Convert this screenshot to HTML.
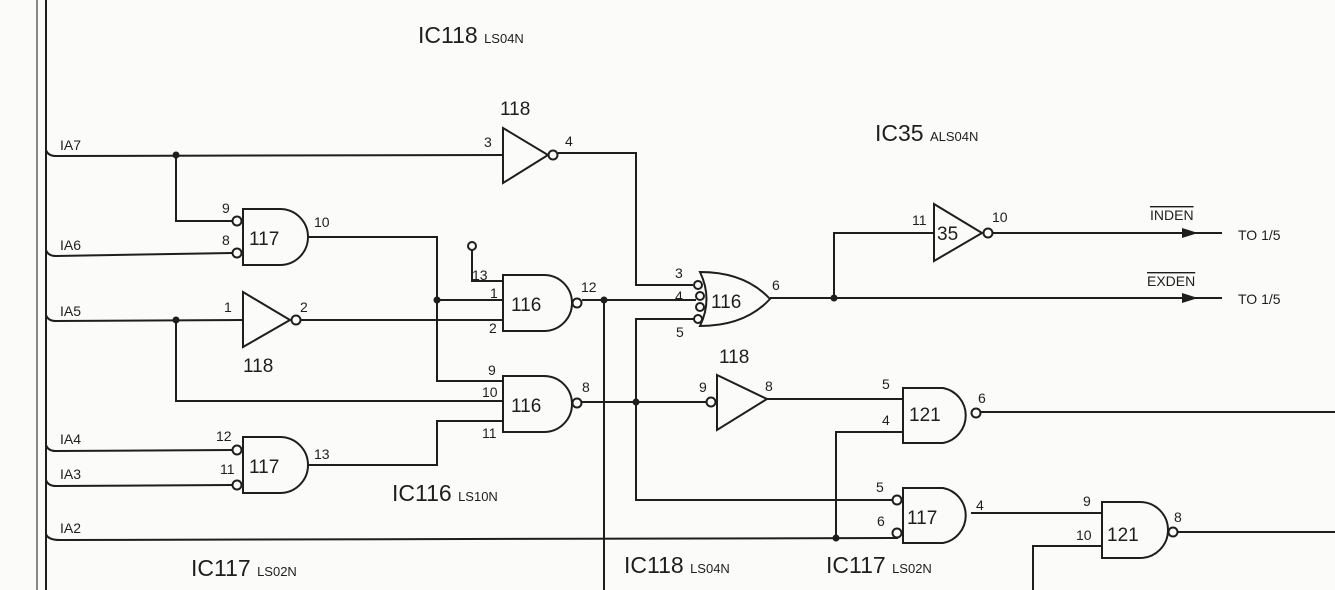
<!DOCTYPE html>
<html><head><style>
html,body{margin:0;padding:0;background:#fbfbfa;}
svg{display:block}
text{font-family:"Liberation Sans",sans-serif;fill:#1e1e1e}
</style></head><body>
<svg width="1335" height="590" viewBox="0 0 1335 590" xmlns="http://www.w3.org/2000/svg">
<g stroke="#1e1e1e" stroke-width="2" fill="none">
<line x1="37" y1="0" x2="37" y2="590" stroke="#888"/>
<line x1="46" y1="0" x2="46" y2="590"/>
<path d="M46 150 Q48 156 56 156 L503 155"/>
<path d="M176 155 V221 H232"/>
<path d="M46 250 Q48 256 56 256 L232 253"/>
<path d="M46 315 Q48 321 56 321 L243 320"/>
<path d="M176 320 V401 H503"/>
<path d="M46 445 Q48 451 56 451 L232 450"/>
<path d="M46 480 Q48 486 56 486 L232 485"/>
<path d="M46 534 Q48 540 60 540 L898 538"/>
<path d="M503 128 L548 155 L503 183 Z"/>
<circle cx="553" cy="155" r="4.5"/>
<path d="M558 153 H636 V285 H693"/>
<path d="M243 209 H280 A28 28 0 0 1 280 265 H243 Z"/>
<circle cx="237" cy="221" r="4.5"/><circle cx="237" cy="253" r="4.5"/>
<path d="M308 237 H437 V381 H503"/>
<path d="M437 300 H503"/>
<path d="M243 292 L290 320 L243 347 Z"/>
<circle cx="296" cy="320" r="4.5"/>
<path d="M301 320 H503"/>
<circle cx="472" cy="246" r="4"/>
<path d="M472 250 V281 H503"/>
<path d="M503 275 H544 A28 28 0 0 1 544 331 H503 Z"/>
<circle cx="577" cy="303" r="4.5"/>
<path d="M582 300 H696"/>
<line x1="604" y1="300" x2="604" y2="590"/>
<path d="M503 376 H544 A28 28 0 0 1 544 432 H503 Z"/>
<circle cx="577" cy="403" r="4.5"/>
<path d="M582 402 H706"/>
<path d="M503 421 H437 V465 H308"/>
<path d="M243 437 H280 A28 28 0 0 1 280 493 H243 Z"/>
<circle cx="237" cy="450" r="4.5"/><circle cx="237" cy="485" r="4.5"/>
<path d="M700 272 Q745 272 770 299 Q745 326 700 326 Q713 299 700 272 Z"/>
<circle cx="698" cy="285" r="4"/><circle cx="700" cy="296" r="4"/><circle cx="700" cy="307" r="4"/><circle cx="698" cy="319" r="4"/>
<path d="M694 319 H636 V500 H892"/>
<path d="M770 298 H1222"/>
<path d="M834 298 V233 H934"/>
<path d="M934 204 L982 233 L934 261 Z"/>
<circle cx="988" cy="233" r="4.5"/>
<path d="M993 233 H1222"/>
<circle cx="711" cy="402" r="4.5"/>
<path d="M717 375 L767 399 L717 430 Z"/>
<path d="M767 399 H903"/>
<path d="M903 388 H943 A28 28 0 0 1 943 443 H903 Z"/>
<circle cx="976" cy="413" r="4.5"/>
<path d="M981 412 H1335"/>
<path d="M903 432 H836 V538"/>
<path d="M903 488 H943 A28 28 0 0 1 943 543 H903 Z"/>
<circle cx="897" cy="500" r="4.5"/><circle cx="897" cy="533" r="4.5"/>
<path d="M971 513 H1102"/>
<path d="M1102 502 H1140 A28 28 0 0 1 1140 558 H1102 Z"/>
<circle cx="1173" cy="532" r="4.5"/>
<path d="M1178 532 H1335"/>
<path d="M1102 546 H1033 V590"/>
</g>
<g fill="#1e1e1e">
<circle cx="176" cy="155" r="3.5"/><circle cx="176" cy="320" r="3.5"/>
<circle cx="437" cy="300" r="3.5"/><circle cx="604" cy="300" r="3.5"/>
<circle cx="636" cy="402" r="3.5"/><circle cx="834" cy="298" r="3.5"/>
<circle cx="836" cy="538" r="3.5"/>
<path d="M1182 228 L1198 233 L1182 238 Z"/>
<path d="M1182 293 L1198 298 L1182 303 Z"/>
</g>
<g font-size="14">
<text x="60" y="150">IA7</text><text x="60" y="250">IA6</text><text x="60" y="316">IA5</text>
<text x="60" y="444">IA4</text><text x="60" y="479">IA3</text><text x="60" y="533">IA2</text>
<text x="484" y="147">3</text><text x="565" y="146">4</text>
<text x="222" y="213">9</text><text x="222" y="245">8</text><text x="314" y="227">10</text>
<text x="224" y="312">1</text><text x="300" y="312">2</text>
<text x="472" y="280">13</text><text x="490" y="298">1</text><text x="489" y="333">2</text><text x="581" y="292">12</text>
<text x="488" y="375">9</text><text x="482" y="397">10</text><text x="482" y="438">11</text><text x="582" y="392">8</text>
<text x="216" y="441">12</text><text x="220" y="474">11</text><text x="314" y="459">13</text>
<text x="675" y="278">3</text><text x="675" y="301">4</text><text x="676" y="337">5</text><text x="772" y="290">6</text>
<text x="912" y="225">11</text><text x="992" y="222">10</text>
<text x="699" y="392">9</text><text x="765" y="391">8</text>
<text x="882" y="389">5</text><text x="882" y="425">4</text><text x="978" y="403">6</text>
<text x="876" y="492">5</text><text x="877" y="526">6</text><text x="976" y="510">4</text>
<text x="1083" y="506">9</text><text x="1076" y="540">10</text><text x="1174" y="522">8</text>
</g>
<g font-size="19">
<text x="500" y="115">118</text><text x="243" y="372">118</text><text x="719" y="363">118</text>
<text x="249" y="245">117</text><text x="249" y="473">117</text>
<text x="511" y="311">116</text><text x="511" y="412">116</text><text x="711" y="308">116</text>
<text x="937" y="240">35</text>
<text x="909" y="421">121</text><text x="907" y="524">117</text><text x="1107" y="541">121</text>
</g>
<g font-size="23">
<text x="418" y="43">IC118 <tspan font-size="13">LS04N</tspan></text>
<text x="875" y="141">IC35 <tspan font-size="13">ALS04N</tspan></text>
<text x="392" y="501">IC116 <tspan font-size="13">LS10N</tspan></text>
<text x="191" y="576">IC117 <tspan font-size="13">LS02N</tspan></text>
<text x="624" y="573">IC118 <tspan font-size="13">LS04N</tspan></text>
<text x="826" y="573">IC117 <tspan font-size="13">LS02N</tspan></text>
</g>
<g font-size="14">
<text x="1150" y="220" text-decoration="overline">INDEN</text>
<text x="1147" y="286" text-decoration="overline">EXDEN</text>
<text x="1238" y="240">TO 1/5</text>
<text x="1238" y="304">TO 1/5</text>
</g>
</svg>
</body></html>
